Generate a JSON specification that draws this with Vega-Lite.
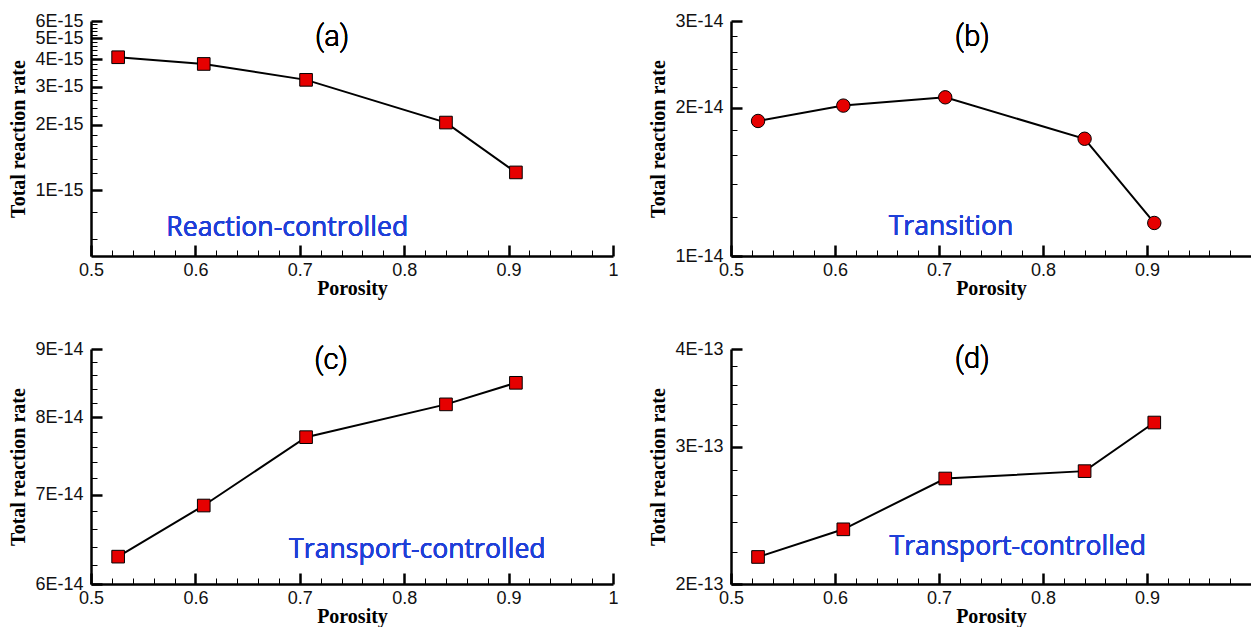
{
  "$schema": "https://vega.github.io/schema/vega-lite/v6.json",
  "background": "white",
  "padding": {"left": 8, "top": 12, "right": 0, "bottom": 0},
  "datasets": {
    "rates": [
      {"panel": "a", "porosity": 0.526, "rate": 4.09e-15},
      {"panel": "a", "porosity": 0.608, "rate": 3.81e-15},
      {"panel": "a", "porosity": 0.706, "rate": 3.22e-15},
      {"panel": "a", "porosity": 0.840, "rate": 2.05e-15},
      {"panel": "a", "porosity": 0.907, "rate": 1.21e-15},
      {"panel": "b", "porosity": 0.526, "rate": 1.88e-14},
      {"panel": "b", "porosity": 0.608, "rate": 2.02e-14},
      {"panel": "b", "porosity": 0.706, "rate": 2.10e-14},
      {"panel": "b", "porosity": 0.840, "rate": 1.73e-14},
      {"panel": "b", "porosity": 0.907, "rate": 1.167e-14},
      {"panel": "c", "porosity": 0.526, "rate": 6.29e-14},
      {"panel": "c", "porosity": 0.608, "rate": 6.87e-14},
      {"panel": "c", "porosity": 0.706, "rate": 7.73e-14},
      {"panel": "c", "porosity": 0.840, "rate": 8.18e-14},
      {"panel": "c", "porosity": 0.907, "rate": 8.49e-14},
      {"panel": "d", "porosity": 0.526, "rate": 2.166e-13},
      {"panel": "d", "porosity": 0.608, "rate": 2.35e-13},
      {"panel": "d", "porosity": 0.706, "rate": 2.73e-13},
      {"panel": "d", "porosity": 0.840, "rate": 2.79e-13},
      {"panel": "d", "porosity": 0.907, "rate": 3.22e-13}
    ]
  },
  "columns": 2,
  "spacing": {"row": 93, "column": 118},
  "bounds": "flush",
  "concat": [
    {
      "width": 522, "height": 235,
      "data": {"name": "rates"},
      "transform": [{"filter": "datum.panel == 'a'"}],
      "layer": [
        {"mark": {"type": "line", "color": "black", "strokeWidth": 2},
          "encoding": {
            "x": {"field": "porosity", "type": "quantitative", "scale": {"domain": [0.5, 1], "nice": false, "zero": false},
              "axis": {"orient": "bottom", "title": "Porosity", "values": [0.5,0.6,0.7,0.8,0.9,1], "format": ".1~f", "tickSize": -11, "tickWidth": 2.5}},
            "y": {"field": "rate", "type": "quantitative", "scale": {"type": "log", "domain": [5e-16, 6e-15], "nice": false, "zero": false},
              "axis": {"orient": "left", "title": "Total reaction rate", "values": [1e-15,2e-15,3e-15,4e-15,5e-15,6e-15],
                "labelExpr": "replace(format(datum.value, '.0e'), 'e', 'E')", "tickSize": -11, "tickWidth": 2.5}}}},
        {"mark": {"type": "point", "shape": "square", "filled": true, "fill": "#e60000", "stroke": "black", "strokeWidth": 1, "size": 160, "opacity": 1},
          "encoding": {
            "x": {"field": "porosity", "type": "quantitative", "scale": {"domain": [0.5, 1], "nice": false, "zero": false},
              "axis": {"orient": "bottom", "title": null, "labels": false, "domain": false, "tickSize": -6, "tickWidth": 1,
                "values": [0.52,0.54,0.56,0.58,0.62,0.64,0.66,0.68,0.72,0.74,0.76,0.78,0.82,0.84,0.86,0.88,0.92,0.94,0.96,0.98]}},
            "y": {"field": "rate", "type": "quantitative", "scale": {"type": "log", "domain": [5e-16, 6e-15], "nice": false, "zero": false},
              "axis": {"orient": "left", "title": null, "labels": false, "domain": false, "tickSize": -6, "tickWidth": 1,
                "values": [6e-16,8e-16,1.2e-15,1.4e-15,1.6e-15,1.8e-15,2.2e-15,2.4e-15,2.6e-15,2.8e-15,3.2e-15,3.4e-15,3.6e-15,3.8e-15,4.2e-15,4.4e-15,4.6e-15,4.8e-15,5.2e-15,5.4e-15,5.6e-15,5.8e-15]}}}},
        {"mark": {"type": "text", "font": "Roboto", "fontSize": 29, "fontWeight": 300, "color": "black", "align": "center", "baseline": "middle"},
          "encoding": {"x": {"datum": 0.731, "type": "quantitative", "axis": null}, "y": {"datum": 5.07e-15, "type": "quantitative", "axis": null}, "text": {"value": "(a)"}}},
        {"mark": {"type": "text", "font": "Open Sans", "fontSize": 26.6, "fontWeight": "normal", "color": "#1f3fd8", "align": "center", "baseline": "alphabetic"},
          "encoding": {"x": {"datum": 0.688, "type": "quantitative", "axis": null}, "y": {"datum": 6.16e-16, "type": "quantitative", "axis": null}, "text": {"value": "Reaction-controlled"}}}
      ],
      "resolve": {"axis": {"x": "independent", "y": "independent"}}
    },
    {
      "width": 520, "height": 235,
      "data": {"name": "rates"},
      "transform": [{"filter": "datum.panel == 'b'"}],
      "layer": [
        {"mark": {"type": "line", "color": "black", "strokeWidth": 2},
          "encoding": {
            "x": {"field": "porosity", "type": "quantitative", "scale": {"domain": [0.5, 1], "nice": false, "zero": false},
              "axis": {"orient": "bottom", "title": "Porosity", "values": [0.5,0.6,0.7,0.8,0.9], "format": ".1~f", "tickSize": -11, "tickWidth": 2.5}},
            "y": {"field": "rate", "type": "quantitative", "scale": {"type": "log", "domain": [1e-14, 3e-14], "nice": false, "zero": false},
              "axis": {"orient": "left", "title": "Total reaction rate", "values": [1e-14,2e-14,3e-14],
                "labelExpr": "replace(format(datum.value, '.0e'), 'e', 'E')", "tickSize": -11, "tickWidth": 2.5}}}},
        {"mark": {"type": "point", "shape": "circle", "filled": true, "fill": "#e60000", "stroke": "black", "strokeWidth": 1, "size": 180, "opacity": 1},
          "encoding": {
            "x": {"field": "porosity", "type": "quantitative", "scale": {"domain": [0.5, 1], "nice": false, "zero": false},
              "axis": {"orient": "bottom", "title": null, "labels": false, "domain": false, "tickSize": -6, "tickWidth": 1,
                "values": [0.52,0.54,0.56,0.58,0.62,0.64,0.66,0.68,0.72,0.74,0.76,0.78,0.82,0.84,0.86,0.88,0.92,0.94,0.96,0.98]}},
            "y": {"field": "rate", "type": "quantitative", "scale": {"type": "log", "domain": [1e-14, 3e-14], "nice": false, "zero": false},
              "axis": {"orient": "left", "title": null, "labels": false, "domain": false, "tickSize": -6, "tickWidth": 1,
                "values": [1.2e-14,1.4e-14,1.6e-14,1.8e-14,2.2e-14,2.4e-14,2.6e-14,2.8e-14]}}}},
        {"mark": {"type": "text", "font": "Roboto", "fontSize": 29, "fontWeight": 300, "color": "black", "align": "center", "baseline": "middle"},
          "encoding": {"x": {"datum": 0.732, "type": "quantitative", "axis": null}, "y": {"datum": 2.785e-14, "type": "quantitative", "axis": null}, "text": {"value": "(b)"}}},
        {"mark": {"type": "text", "font": "Open Sans", "fontSize": 26.6, "fontWeight": "normal", "color": "#1f3fd8", "align": "center", "baseline": "alphabetic"},
          "encoding": {"x": {"datum": 0.7115, "type": "quantitative", "axis": null}, "y": {"datum": 1.103e-14, "type": "quantitative", "axis": null}, "text": {"value": "Transition"}}}
      ],
      "resolve": {"axis": {"x": "independent", "y": "independent"}}
    },
    {
      "width": 522, "height": 235,
      "data": {"name": "rates"},
      "transform": [{"filter": "datum.panel == 'c'"}],
      "layer": [
        {"mark": {"type": "line", "color": "black", "strokeWidth": 2},
          "encoding": {
            "x": {"field": "porosity", "type": "quantitative", "scale": {"domain": [0.5, 1], "nice": false, "zero": false},
              "axis": {"orient": "bottom", "title": "Porosity", "values": [0.5,0.6,0.7,0.8,0.9,1], "format": ".1~f", "tickSize": -11, "tickWidth": 2.5}},
            "y": {"field": "rate", "type": "quantitative", "scale": {"type": "log", "domain": [6e-14, 9e-14], "nice": false, "zero": false},
              "axis": {"orient": "left", "title": "Total reaction rate", "values": [6e-14,7e-14,8e-14,9e-14],
                "labelExpr": "replace(format(datum.value, '.0e'), 'e', 'E')", "tickSize": -11, "tickWidth": 2.5}}}},
        {"mark": {"type": "point", "shape": "square", "filled": true, "fill": "#e60000", "stroke": "black", "strokeWidth": 1, "size": 160, "opacity": 1},
          "encoding": {
            "x": {"field": "porosity", "type": "quantitative", "scale": {"domain": [0.5, 1], "nice": false, "zero": false},
              "axis": {"orient": "bottom", "title": null, "labels": false, "domain": false, "tickSize": -6, "tickWidth": 1,
                "values": [0.52,0.54,0.56,0.58,0.62,0.64,0.66,0.68,0.72,0.74,0.76,0.78,0.82,0.84,0.86,0.88,0.92,0.94,0.96,0.98]}},
            "y": {"field": "rate", "type": "quantitative", "scale": {"type": "log", "domain": [6e-14, 9e-14], "nice": false, "zero": false},
              "axis": {"orient": "left", "title": null, "labels": false, "domain": false, "tickSize": -6, "tickWidth": 1,
                "values": [6.2e-14,6.4e-14,6.6e-14,6.8e-14,7.2e-14,7.4e-14,7.6e-14,7.8e-14,8.2e-14,8.4e-14,8.6e-14,8.8e-14]}}}},
        {"mark": {"type": "text", "font": "Roboto", "fontSize": 29, "fontWeight": 300, "color": "black", "align": "center", "baseline": "middle"},
          "encoding": {"x": {"datum": 0.73, "type": "quantitative", "axis": null}, "y": {"datum": 8.83e-14, "type": "quantitative", "axis": null}, "text": {"value": "(c)"}}},
        {"mark": {"type": "text", "font": "Open Sans", "fontSize": 26.6, "fontWeight": "normal", "color": "#1f3fd8", "align": "center", "baseline": "alphabetic"},
          "encoding": {"x": {"datum": 0.8126, "type": "quantitative", "axis": null}, "y": {"datum": 6.28e-14, "type": "quantitative", "axis": null}, "text": {"value": "Transport-controlled"}}}
      ],
      "resolve": {"axis": {"x": "independent", "y": "independent"}}
    },
    {
      "width": 520, "height": 235,
      "data": {"name": "rates"},
      "transform": [{"filter": "datum.panel == 'd'"}],
      "layer": [
        {"mark": {"type": "line", "color": "black", "strokeWidth": 2},
          "encoding": {
            "x": {"field": "porosity", "type": "quantitative", "scale": {"domain": [0.5, 1], "nice": false, "zero": false},
              "axis": {"orient": "bottom", "title": "Porosity", "values": [0.5,0.6,0.7,0.8,0.9], "format": ".1~f", "tickSize": -11, "tickWidth": 2.5}},
            "y": {"field": "rate", "type": "quantitative", "scale": {"type": "log", "domain": [2e-13, 4e-13], "nice": false, "zero": false},
              "axis": {"orient": "left", "title": "Total reaction rate", "values": [2e-13,3e-13,4e-13],
                "labelExpr": "replace(format(datum.value, '.0e'), 'e', 'E')", "tickSize": -11, "tickWidth": 2.5}}}},
        {"mark": {"type": "point", "shape": "square", "filled": true, "fill": "#e60000", "stroke": "black", "strokeWidth": 1, "size": 160, "opacity": 1},
          "encoding": {
            "x": {"field": "porosity", "type": "quantitative", "scale": {"domain": [0.5, 1], "nice": false, "zero": false},
              "axis": {"orient": "bottom", "title": null, "labels": false, "domain": false, "tickSize": -6, "tickWidth": 1,
                "values": [0.52,0.54,0.56,0.58,0.62,0.64,0.66,0.68,0.72,0.74,0.76,0.78,0.82,0.84,0.86,0.88,0.92,0.94,0.96,0.98]}},
            "y": {"field": "rate", "type": "quantitative", "scale": {"type": "log", "domain": [2e-13, 4e-13], "nice": false, "zero": false},
              "axis": {"orient": "left", "title": null, "labels": false, "domain": false, "tickSize": -6, "tickWidth": 1,
                "values": [2.2e-13,2.4e-13,2.6e-13,2.8e-13,3.2e-13,3.4e-13,3.6e-13,3.8e-13]}}}},
        {"mark": {"type": "text", "font": "Roboto", "fontSize": 29, "fontWeight": 300, "color": "black", "align": "center", "baseline": "middle"},
          "encoding": {"x": {"datum": 0.732, "type": "quantitative", "axis": null}, "y": {"datum": 3.88e-13, "type": "quantitative", "axis": null}, "text": {"value": "(d)"}}},
        {"mark": {"type": "text", "font": "Open Sans", "fontSize": 26.6, "fontWeight": "normal", "color": "#1f3fd8", "align": "center", "baseline": "alphabetic"},
          "encoding": {"x": {"datum": 0.7758, "type": "quantitative", "axis": null}, "y": {"datum": 2.18e-13, "type": "quantitative", "axis": null}, "text": {"value": "Transport-controlled"}}}
      ],
      "resolve": {"axis": {"x": "independent", "y": "independent"}}
    }
  ],
  "config": {
    "view": {"stroke": null},
    "axis": {
      "grid": false,
      "domainColor": "black",
      "domainWidth": 2.5,
      "tickColor": "black",
      "labelFont": "Liberation Sans",
      "labelFontSize": 18,
      "labelColor": "#111111",
      "labelFlush": false,
      "labelOverlap": false,
      "labelBound": false,
      "titleFont": "Liberation Serif",
      "titleFontSize": 20,
      "titleFontWeight": "bold",
      "titleColor": "black"
    },
    "axisX": {"labelPadding": 16.5, "titlePadding": -1},
    "axisY": {"labelPadding": 19, "titlePadding": 6.5}
  }
}
